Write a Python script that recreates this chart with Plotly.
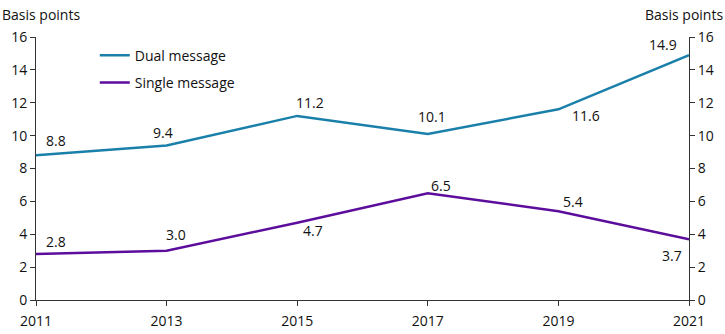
import plotly.graph_objects as go

years = [2011, 2013, 2015, 2017, 2019, 2021]
dual = [8.8, 9.4, 11.2, 10.1, 11.6, 14.9]
single = [2.8, 3.0, 4.7, 6.5, 5.4, 3.7]
y_ticks = [0, 2, 4, 6, 8, 10, 12, 14, 16]
x_ticks = [2011, 2013, 2015, 2017, 2019, 2021]

# label offsets in pixels (dx, dy) – styling only
dual_off = [(20, 15), (-4, 13), (13, 13), (4, 17), (28, -6), (-26, 11)]
single_off = [(20, 12), (9, 16), (16, -8), (13, 8), (15, 10), (-17, -16)]

DUAL_C = "#1a80aa"
SINGLE_C = "#5c0d9c"
FONT = "Open Sans"

fig = go.Figure()
fig.add_trace(go.Scatter(x=years, y=dual, name="Dual message", mode="lines",
                         legendgroup="a", line=dict(color=DUAL_C, width=2.5)))
fig.add_trace(go.Scatter(x=years, y=single, name="Single message", mode="lines",
                         legendgroup="b", line=dict(color=SINGLE_C, width=2.5)))
fig.add_trace(go.Scatter(x=years, y=dual, yaxis="y2", mode="lines", showlegend=False,
                         hoverinfo="skip", line=dict(width=0), opacity=0))

annotations = []
for series, offs in ((dual, dual_off), (single, single_off)):
    for x, v, (dx, dy) in zip(years, series, offs):
        annotations.append(dict(x=x, y=v, xref="x", yref="y", text=f"{v:.1f}",
                                showarrow=False, xshift=dx, yshift=dy,
                                font=dict(size=14, color="#111")))
annotations += [
    dict(text="Basis points", x=0, xref="paper", xanchor="left", xshift=-36,
         y=1, yref="paper", yanchor="bottom", yshift=11, showarrow=False, font=dict(size=14)),
    dict(text="Basis points", x=1, xref="paper", xanchor="right", xshift=36,
         y=1, yref="paper", yanchor="bottom", yshift=11, showarrow=False, font=dict(size=14)),
]

axis_common = dict(range=[0, 16], tickvals=y_ticks, showgrid=False, zeroline=False,
                   showline=True, linecolor="#333", linewidth=1, ticks="outside",
                   ticklen=5, tickcolor="#333", tickfont=dict(size=14, color="#111"),
                   automargin=False)
fig.update_layout(
    width=725, height=334, margin=dict(l=36, r=36, t=37, b=34),
    plot_bgcolor="white", paper_bgcolor="white",
    font=dict(family=FONT, size=14, color="#111"),
    xaxis=dict(range=[2011, 2021], tickvals=x_ticks, showgrid=False, zeroline=False,
               showline=True, linecolor="#333", linewidth=1, ticks="outside", ticklen=5,
               tickcolor="#333", tickfont=dict(size=14, color="#111"),
               ticklabelstandoff=3, automargin=False),
    yaxis=axis_common,
    yaxis2=dict(axis_common, overlaying="y", side="right"),
    legend=dict(x=0.09, y=0.99, xanchor="left", yanchor="top", bgcolor="rgba(0,0,0,0)",
                font=dict(size=14), traceorder="grouped", tracegroupgap=6),
    showlegend=True,
    annotations=annotations,
)
fig.write_html("out.html")
